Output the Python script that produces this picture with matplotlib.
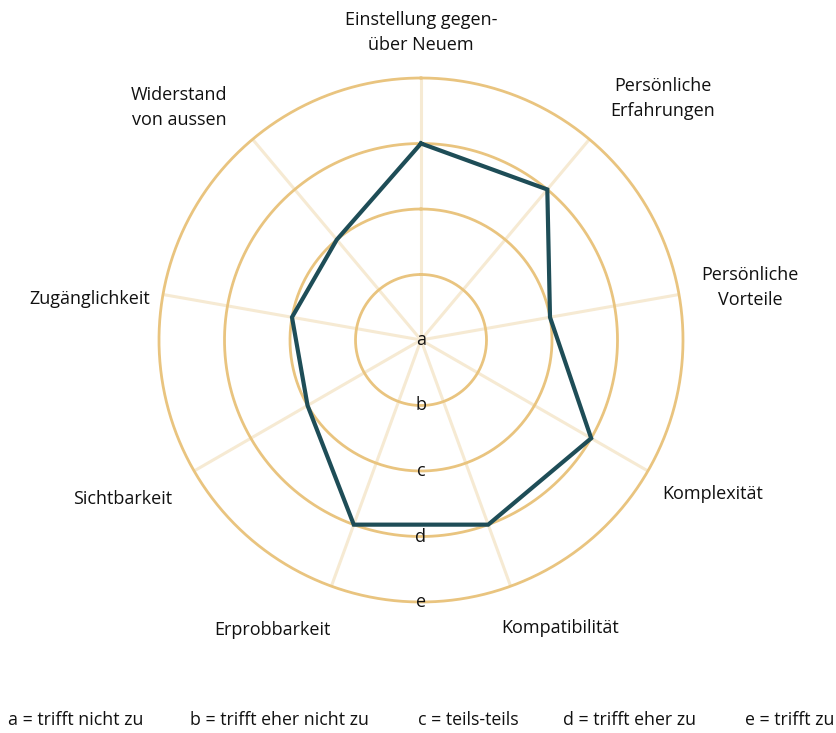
import numpy as np
import matplotlib
matplotlib.use("Agg")
import matplotlib.pyplot as plt
from matplotlib import font_manager

# Radar axes, clockwise from the top
categories = [
    "Einstellung gegen-\nüber Neuem",
    "Persönliche\nErfahrungen",
    "Persönliche\nVorteile",
    "Komplexität",
    "Kompatibilität",
    "Erprobbarkeit",
    "Sichtbarkeit",
    "Zugänglichkeit",
    "Widerstand\nvon aussen",
]
# Rating on the scale a..e (0..4)
values = [3, 3, 2, 3, 3, 3, 2, 2, 2]
levels = ["a", "b", "c", "d", "e"]
legend_texts = [
    "a = trifft nicht zu",
    "b = trifft eher nicht zu",
    "c = teils-teils",
    "d = trifft eher zu",
    "e = trifft zu",
]

# Label anchor positions (angle in degrees clockwise from top, radius in scale units)
label_angles = [0, 45, 81, 117.8, 154.2, 207.2, 242, 277, 313.8]
label_radii = [4.70, 5.22, 5.09, 5.04, 4.88, 4.97, 5.16, 5.09, 5.12]

available = {f.name for f in font_manager.fontManager.ttflist}
main_font = "Open Sans" if "Open Sans" in available else "DejaVu Sans"
narrow_font = "Liberation Sans Narrow" if "Liberation Sans Narrow" in available else main_font

GOLD = "#E9C47F"
SPOKE = "#F6EAD3"
TEAL = "#1E4D57"

W, H = 837, 733
fig = plt.figure(figsize=(W / 100, H / 100), dpi=100)
fig.patch.set_facecolor("white")

cx, cy = 421, 340          # chart centre in pixels (from top)
unit = 65.5                # pixels per scale step
rmax = 4.3
rad_px = rmax * unit
ax = fig.add_axes([(cx - rad_px) / W, (H - cy - rad_px) / H,
                   2 * rad_px / W, 2 * rad_px / H], projection="polar")
ax.set_theta_zero_location("N")
ax.set_theta_direction(-1)
ax.set_ylim(0, rmax)
ax.grid(False)
ax.set_xticks([])
ax.set_yticks([])
ax.spines["polar"].set_visible(False)
ax.patch.set_alpha(0)

n = len(categories)
angles = np.deg2rad(np.arange(n) * 360.0 / n)

# Spokes
for a in angles:
    ax.plot([a, a], [0, len(levels) - 1], color=SPOKE, lw=2.2, zorder=1,
            solid_capstyle="butt")

# Concentric rings for b..e
t = np.linspace(0, 2 * np.pi, 400)
for r in range(1, len(levels)):
    ax.plot(t, np.full_like(t, r), color=GOLD, lw=2.0, zorder=2)

# Data polygon
closed_a = np.append(angles, angles[0])
closed_v = np.append(values, values[0])
ax.plot(closed_a, closed_v, color=TEAL, lw=3.0, zorder=4, solid_joinstyle="miter")

# Scale letters along the bottom
for i, lv in enumerate(levels):
    ax.text(np.pi, i, lv, ha="center", va="center", fontsize=13,
            family=main_font, color="#111111", zorder=5)

# Category labels
for lab, la, lr in zip(categories, label_angles, label_radii):
    ax.text(np.deg2rad(la), lr, lab, ha="center", va="center", fontsize=13,
            family=main_font, color="#111111", linespacing=1.5,
            clip_on=False)

# Scale legend at the bottom
legend_x = [8, 190, 418, 563, 745]
for x, txt in zip(legend_x, legend_texts):
    fig.text(x / W, 1 - 720 / H, txt, ha="left", va="center", fontsize=12.8,
             family=narrow_font, color="#111111")

fig.savefig("out.png", dpi=100, facecolor="white")
